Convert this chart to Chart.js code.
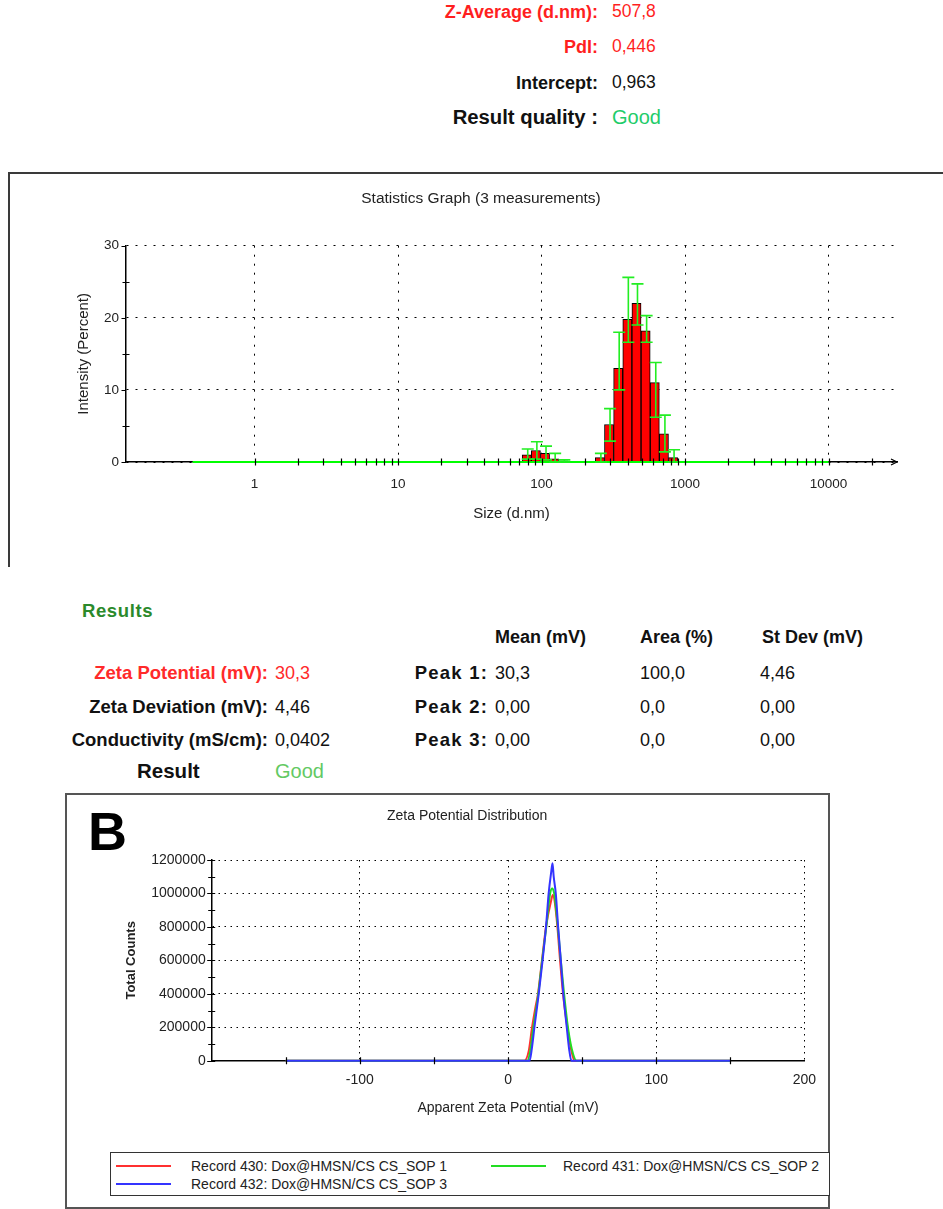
<!DOCTYPE html>
<html><head><meta charset="utf-8">
<script src="https://cdn.jsdelivr.net/npm/chart.js@4.4.1/dist/chart.umd.min.js"></script>
<style>
html,body{margin:0;padding:0;background:#fff;}
#page{position:relative;width:943px;height:1209px;overflow:hidden;font-family:"Liberation Sans",Arial,Helvetica,sans-serif;color:#111;}
.t{position:absolute;white-space:nowrap;line-height:1;transform:translateY(-50%);}
.b{font-weight:bold;}
canvas{position:absolute;}
</style></head><body><div id="page">

<!-- size summary -->
<div class="t b" style="right:345px;top:12px;font-size:18px;color:#ff1f1f">Z-Average (d.nm):</div>
<div class="t" style="left:612px;top:12px;font-size:17.5px;color:#ff1f1f">507,8</div>
<div class="t b" style="right:345px;top:47px;font-size:18px;color:#ff1f1f">PdI:</div>
<div class="t" style="left:612px;top:47px;font-size:17.5px;color:#ff1f1f">0,446</div>
<div class="t b" style="right:345px;top:83px;font-size:18px;color:#111">Intercept:</div>
<div class="t" style="left:612px;top:83px;font-size:17.5px;color:#111">0,963</div>
<div class="t b" style="right:345px;top:117px;font-size:20.3px;color:#111">Result quality :</div>
<div class="t" style="left:612px;top:117px;font-size:20px;color:#1fcc6a">Good</div>

<div style="position:absolute;left:8px;top:172px;width:940px;height:393px;border-top:2px solid #3a3a3a;border-left:2px solid #3a3a3a;"></div>
<canvas id="c1" width="943" height="380" style="left:0;top:180px"></canvas>

<!-- zeta results -->
<div class="t b" style="left:82px;top:611px;font-size:18.5px;letter-spacing:0.6px;color:#2b8a2b">Results</div>
<div class="t b" style="left:495px;top:637px;font-size:18px">Mean (mV)</div>
<div class="t b" style="left:640px;top:637px;font-size:18px">Area (%)</div>
<div class="t b" style="left:762px;top:637px;font-size:18px">St Dev (mV)</div>

<div class="t b" style="right:675px;top:673px;font-size:18.5px;color:#ff2a2a">Zeta Potential (mV):</div>
<div class="t" style="left:275px;top:673px;font-size:18px;color:#ff2a2a">30,3</div>
<div class="t b" style="right:675px;top:707px;font-size:18.5px">Zeta Deviation (mV):</div>
<div class="t" style="left:275px;top:707px;font-size:18px">4,46</div>
<div class="t b" style="right:675px;top:740px;font-size:18.5px">Conductivity (mS/cm):</div>
<div class="t" style="left:275px;top:740px;font-size:18px">0,0402</div>
<div class="t b" style="left:137px;top:771px;font-size:20.5px">Result</div>
<div class="t" style="left:275px;top:771px;font-size:20px;color:#63c963">Good</div>

<div class="t b" style="right:455px;top:673px;font-size:18.5px;letter-spacing:1.2px">Peak 1:</div>
<div class="t" style="left:495px;top:673px;font-size:18px">30,3</div>
<div class="t" style="left:640px;top:673px;font-size:18px">100,0</div>
<div class="t" style="left:760px;top:673px;font-size:18px">4,46</div>
<div class="t b" style="right:455px;top:707px;font-size:18.5px;letter-spacing:1.2px">Peak 2:</div>
<div class="t" style="left:495px;top:707px;font-size:18px">0,00</div>
<div class="t" style="left:640px;top:707px;font-size:18px">0,0</div>
<div class="t" style="left:760px;top:707px;font-size:18px">0,00</div>
<div class="t b" style="right:455px;top:740px;font-size:18.5px;letter-spacing:1.2px">Peak 3:</div>
<div class="t" style="left:495px;top:740px;font-size:18px">0,00</div>
<div class="t" style="left:640px;top:740px;font-size:18px">0,0</div>
<div class="t" style="left:760px;top:740px;font-size:18px">0,00</div>

<div style="position:absolute;left:65px;top:793px;width:761px;height:412px;border:2px solid #555;"></div>
<div class="t b" style="left:88px;top:831px;font-size:54px;color:#000">B</div>
<canvas id="c2" width="760" height="340" style="left:67px;top:795px"></canvas>

<div id="legend" style="position:absolute;left:110px;top:1152px;width:718px;height:42px;border:1.5px solid #333;overflow:hidden;background:#fff"></div>

</div>
<script>
// ---------- Statistics graph (size distribution) ----------
const sizeBins      = [78.82, 91.28, 105.7, 122.4, 141.8, 255.0, 295.3, 342.0, 396.1, 458.7, 531.2, 615.1, 712.4, 825.0];
const intensityMean = [1.0,   1.6,   1.2,   0.45,  0.15,  0.6,   5.2,   13.0,  19.8,  22.0,  18.2,  11.0,  3.9,   0.6];
const intensityLow  = [0.4,   0.4,   0.3,   0.0,   0.0,   0.0,   2.9,   10.0,  16.6,  19.0,  16.6,  6.2,   1.4,   0.0];
const intensityHigh = [1.8,   2.8,   2.2,   1.2,   0.3,   1.2,   7.4,   18.0,  25.6,  24.7,  20.3,  13.8,  6.5,   1.7];
const baselineX = [0.37, 10000];
const baselineY = [0, 0];
const xMajorTicks = [1, 10, 100, 1000, 10000];
const xTickLabels = ['1', '10', '100', '1000', '10000'];
const xMinorTicks = [2,3,4,5,6,7,8,9, 20,30,40,50,60,70,80,90, 200,300,400,500,600,700,800,900, 2000,3000,4000,5000,6000,7000,8000,9000, 20000];
const yMajorTicks = [0, 10, 20, 30];
const yMinorTicks = [5, 15, 25];

// ---------- Zeta potential distribution ----------
const rec430X = [-150, 11, 14, 16.2, 18.5, 20.2, 22.9, 25.6, 28.9, 30.2, 31.5, 33.3, 35.1, 37.1, 40.0, 42.5, 44.9, 150];
const rec430Y = [0, 0, 60000, 200000, 320000, 400000, 600000, 800000, 950000, 990000, 950000, 800000, 600000, 400000, 200000, 70000, 0, 0];
const rec431X = [-150, 13, 15, 17.1, 20.4, 23.0, 25.8, 28.4, 29.8, 31.1, 33.6, 35.6, 37.8, 40.4, 43.0, 46.2, 150];
const rec431Y = [0, 0, 60000, 200000, 400000, 600000, 800000, 1000000, 1030000, 1000000, 800000, 600000, 400000, 200000, 70000, 0, 0];
const rec432X = [-150, 14.5, 16, 17.8, 20.7, 23.3, 25.6, 27.4, 29.0, 30.0, 30.8, 32.2, 33.8, 35.6, 37.3, 39.6, 41.2, 42.7, 150];
const rec432Y = [0, 0, 70000, 200000, 400000, 600000, 800000, 1000000, 1120000, 1180000, 1100000, 1000000, 800000, 600000, 400000, 200000, 70000, 0, 0];
const zetaXTicks = [-100, 0, 100, 200];
const zetaXMinor = [-150, -100, -50, 0, 50, 100, 150];
const zetaYTicks = [0, 200000, 400000, 600000, 800000, 1000000, 1200000];
const zetaYMinor = [100000, 300000, 500000, 700000, 900000, 1100000];
const recordLabels = ['Record 430: Dox@HMSN/CS CS_SOP 1', 'Record 431: Dox@HMSN/CS CS_SOP 2', 'Record 432: Dox@HMSN/CS CS_SOP 3'];
const recordColors = ['#ff3030', '#22dd22', '#3434ff'];

Chart.defaults.font.family = "'Liberation Sans', Arial, Helvetica, sans-serif";
Chart.defaults.color = '#222';

function pts(xs, ys) { return xs.map((v, i) => ({x: v, y: ys[i]})); }

const errorBarPlugin = {
  id: 'errorBars',
  afterDatasetsDraw(chart) {
    const {ctx, scales: {x, y}} = chart;
    ctx.save();
    ctx.strokeStyle = '#22ee22';
    ctx.lineWidth = 1.6;
    sizeBins.forEach((s, i) => {
      const px = x.getPixelForValue(s) + 1;
      const lo = y.getPixelForValue(intensityLow[i]);
      const hi = y.getPixelForValue(intensityHigh[i]);
      ctx.beginPath();
      ctx.moveTo(px, lo); ctx.lineTo(px, hi);
      ctx.moveTo(px - 6, hi); ctx.lineTo(px + 6, hi);
      ctx.moveTo(px - 6, lo); ctx.lineTo(px + 6, lo);
      ctx.stroke();
    });
    ctx.restore();
  }
};

function marksPlugin(cfg) {
  return {
    id: 'axisMarks',
    afterDraw(chart) {
      const {ctx, chartArea: a, scales: {x, y}} = chart;
      ctx.save();
      ctx.strokeStyle = '#000';
      ctx.lineWidth = 1.2;
      ctx.beginPath();
      cfg.xCross.forEach(v => {
        const p = Math.round(x.getPixelForValue(v)) + 0.5;
        ctx.moveTo(p, a.bottom - cfg.len); ctx.lineTo(p, a.bottom + cfg.len);
      });
      cfg.yCross.forEach(v => {
        const p = Math.round(y.getPixelForValue(v)) + 0.5;
        ctx.moveTo(a.left - cfg.len, p); ctx.lineTo(a.left + cfg.len, p);
      });
      cfg.yMajor.forEach(v => {
        const p = Math.round(y.getPixelForValue(v)) + 0.5;
        ctx.moveTo(a.left - cfg.len - 1, p); ctx.lineTo(a.left, p);
      });
      if (cfg.arrow) {
        ctx.moveTo(a.right - 6, a.bottom - 3); ctx.lineTo(a.right, a.bottom); ctx.lineTo(a.right - 6, a.bottom + 3);
      }
      ctx.stroke();
      ctx.restore();
    }
  };
}

new Chart(document.getElementById('c1'), {
  type: 'bar',
  data: {
    datasets: [
      { label: 'Intensity (Percent)', data: pts(sizeBins, intensityMean), backgroundColor: '#ff0000',
        borderColor: '#000', borderWidth: 1, barPercentage: 1, categoryPercentage: 1, order: 2, clip: false },
      { type: 'line', label: 'baseline', data: pts(baselineX, baselineY), borderColor: '#00ff00',
        backgroundColor: '#00ff00', borderWidth: 2.2, pointRadius: 0, fill: false, order: 1, clip: false }
    ]
  },
  options: {
    responsive: false, animation: false, devicePixelRatio: 1,
    layout: { padding: { left: 65, right: 46, top: 0, bottom: 0 } },
    plugins: {
      legend: { display: false }, tooltip: { enabled: false },
      title: { display: true, text: 'Statistics Graph (3 measurements)', color: '#222',
               font: { size: 15.5, weight: 'normal' }, padding: { top: 9.7, bottom: 37.4 } }
    },
    scales: {
      x: {
        type: 'logarithmic', min: 0.127, max: 30000, offset: false,
        grid: { offset: false, color: '#000', lineWidth: 1, drawTicks: false },
        border: { display: true, color: '#000', width: 1.5, dash: [2, 7] },
        afterBuildTicks: s => { s.ticks = xMajorTicks.map(v => ({ value: v })); },
        ticks: { autoSkip: false, maxRotation: 0, color: '#222', font: { size: 13.5 }, padding: 13.9,
                 callback: v => { const i = xMajorTicks.indexOf(v); return i >= 0 ? xTickLabels[i] : ''; } },
        title: { display: true, text: 'Size (d.nm)', color: '#222', font: { size: 15 }, padding: { top: 0, bottom: 37 } },
        afterFit: s => { s.height = 98; }
      },
      y: {
        type: 'linear', min: 0, max: 30,
        grid: { color: '#000', lineWidth: 1, drawTicks: false },
        border: { display: true, color: '#000', width: 1.5, dash: [2, 7] },
        afterBuildTicks: s => { s.ticks = yMajorTicks.map(v => ({ value: v })); },
        ticks: { color: '#222', font: { size: 13.5 }, padding: 7, callback: v => String(v) },
        title: { display: true, text: 'Intensity (Percent)', color: '#222', font: { size: 15 }, padding: { top: 10, bottom: 0 } },
        afterFit: s => { s.width = 61; }
      }
    }
  },
  plugins: [errorBarPlugin, marksPlugin({ xCross: xMinorTicks.concat(xMajorTicks), yCross: yMinorTicks, yMajor: yMajorTicks, len: 3.5, arrow: true })]
});

new Chart(document.getElementById('c2'), {
  type: 'scatter',
  data: {
    datasets: [
      { label: recordLabels[0], data: pts(rec430X, rec430Y), showLine: true, borderColor: recordColors[0], borderWidth: 2,
        pointRadius: 0, cubicInterpolationMode: 'monotone', order: 3, clip: false },
      { label: recordLabels[1], data: pts(rec431X, rec431Y), showLine: true, borderColor: recordColors[1], borderWidth: 2,
        pointRadius: 0, cubicInterpolationMode: 'monotone', order: 2, clip: false },
      { label: recordLabels[2], data: pts(rec432X, rec432Y), showLine: true, borderColor: recordColors[2], borderWidth: 2,
        pointRadius: 0, cubicInterpolationMode: 'monotone', order: 1, clip: false }
    ]
  },
  options: {
    responsive: false, animation: false, devicePixelRatio: 1,
    layout: { padding: { left: 54, right: 13.7, top: 0, bottom: 0 } },
    plugins: {
      legend: { display: false }, tooltip: { enabled: false },
      title: { display: true, text: 'Zeta Potential Distribution', color: '#222',
               font: { size: 14, weight: 'normal' }, padding: { top: 12.6, bottom: 35.6 } }
    },
    scales: {
      x: {
        type: 'linear', min: -200, max: 200,
        grid: { color: '#000', lineWidth: 1, drawTicks: false },
        border: { display: true, color: '#000', width: 1.5, dash: [1.5, 4.5] },
        afterBuildTicks: s => { s.ticks = zetaXTicks.map(v => ({ value: v })); },
        ticks: { color: '#222', font: { size: 14 }, padding: 10.9, callback: v => String(v) },
        title: { display: true, text: 'Apparent Zeta Potential (mV)', color: '#222', font: { size: 14 }, padding: { top: 0, bottom: 18.6 } },
        afterFit: s => { s.height = 74.3; }
      },
      y: {
        type: 'linear', min: 0, max: 1200000,
        grid: { color: '#000', lineWidth: 1, drawTicks: false },
        border: { display: true, color: '#000', width: 1.5, dash: [1.5, 4.5] },
        afterBuildTicks: s => { s.ticks = zetaYTicks.map(v => ({ value: v })); },
        ticks: { color: '#222', font: { size: 14 }, padding: 6, callback: v => String(v) },
        title: { display: true, text: 'Total Counts', color: '#222', font: { size: 13, weight: 'bold' }, padding: { top: 2.2, bottom: 0 } },
        afterFit: s => { s.width = 90.7; }
      }
    }
  },
  plugins: [marksPlugin({ xCross: zetaXMinor, yCross: zetaYMinor.concat(zetaYTicks), yMajor: zetaYTicks, len: 3.5, arrow: false })]
});

// legend (HTML, built from the dataset labels / colours)
(function () {
  const lg = document.getElementById('legend');
  const spots = [[5, 13, 80], [380, 13, 452], [5, 31, 80]];
  [0, 1, 2].forEach(i => {
    const [lx, ly, tx] = spots[i];
    const line = document.createElement('div');
    line.style.cssText = `position:absolute;left:${lx}px;top:${ly - 1}px;width:55px;height:2px;background:${recordColors[i]};`;
    lg.appendChild(line);
    const t = document.createElement('div');
    t.className = 't';
    t.style.cssText = `left:${tx}px;top:${ly}px;font-size:14px;color:#222;`;
    t.textContent = recordLabels[i];
    lg.appendChild(t);
  });
})();
</script>
</body></html>
